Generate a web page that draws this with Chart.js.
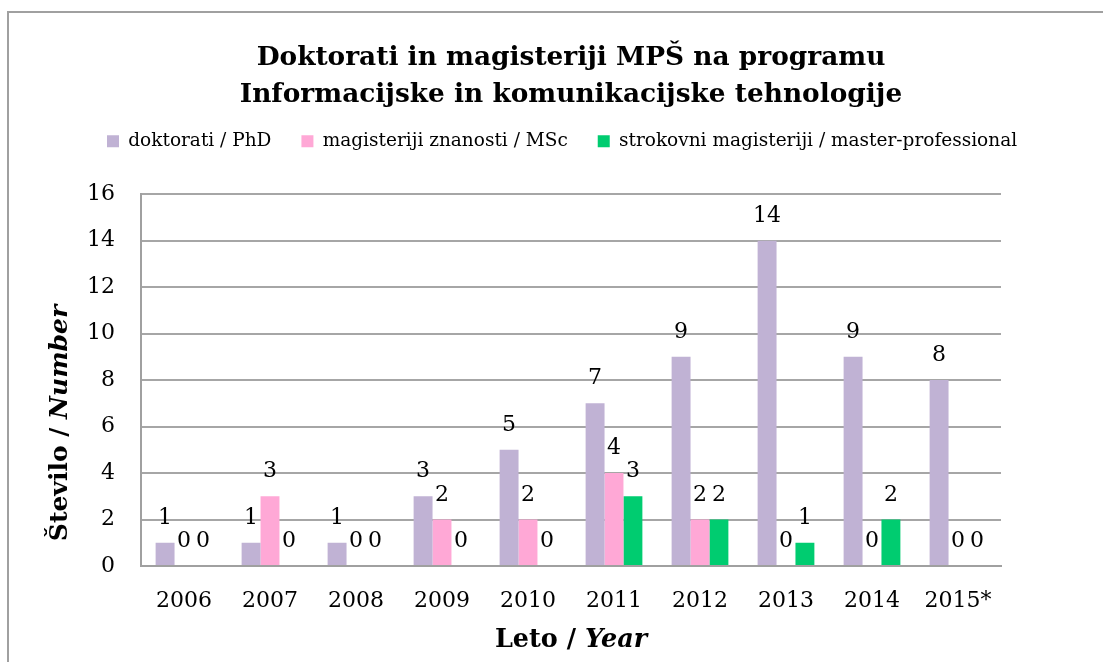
<!DOCTYPE html>
<html>
<head>
<meta charset="utf-8">
<script src="https://cdn.jsdelivr.net/npm/chart.js@4.4.1/dist/chart.umd.min.js"></script>
<style>
  html, body { margin: 0; padding: 0; background: #fff; }
  #wrap { position: relative; width: 1103px; height: 662px; overflow: hidden; }
  canvas { display: block; }
</style>
</head>
<body>
<div id="wrap"><canvas id="c" width="1103" height="662"></canvas></div>
<script>
const years = ['2006', '2007', '2008', '2009', '2010', '2011', '2012', '2013', '2014', '2015*'];
const phd = [1, 1, 1, 3, 5, 7, 9, 14, 9, 8];
const msc = [0, 3, 0, 2, 2, 4, 2, 0, 0, 0];
const professional = [0, 0, 0, 0, 0, 3, 2, 1, 2, 0];
const seriesNames = ['doktorati / PhD', 'magisteriji znanosti / MSc', 'strokovni magisteriji / master-professional'];
const yTicks = [0, 2, 4, 6, 8, 10, 12, 14, 16];
const titleLines = ['Doktorati in magisteriji MPŠ na programu', 'Informacijske in komunikacijske tehnologije'];

const FONT = "'DejaVu Serif', 'Liberation Serif', serif";

const framePlugin = {
  id: 'frame',
  beforeDraw(chart) {
    const ctx = chart.ctx;
    ctx.save();
    ctx.fillStyle = '#fff';
    ctx.fillRect(0, 0, chart.width, chart.height);
    ctx.strokeStyle = '#A0A0A0';
    ctx.lineWidth = 2;
    ctx.beginPath();
    ctx.moveTo(8, chart.height);
    ctx.lineTo(8, 12);
    ctx.lineTo(chart.width, 12);
    ctx.stroke();
    ctx.restore();
  }
};

const labelPlugin = {
  id: 'valueLabels',
  afterDatasetsDraw(chart) {
    const ctx = chart.ctx;
    ctx.save();
    ctx.font = "22px " + FONT;
    ctx.fillStyle = '#000';
    ctx.textAlign = 'center';
    ctx.textBaseline = 'alphabetic';
    chart.data.datasets.forEach((ds, i) => {
      const meta = chart.getDatasetMeta(i);
      meta.data.forEach((el, j) => {
        ctx.fillText(String(ds.data[j]), el.x, el.y - 19);
      });
    });
    ctx.restore();
  }
};

function drawMixed(ctx, parts, cx, cy) {
  let total = 0;
  parts.forEach(p => { ctx.font = p.font; p.w = ctx.measureText(p.text).width; total += p.w; });
  let x = cx - total / 2;
  parts.forEach(p => { ctx.font = p.font; ctx.fillText(p.text, x, cy); x += p.w; });
}

const axisTitlePlugin = {
  id: 'axisTitles',
  afterDraw(chart) {
    const ctx = chart.ctx;
    const a = chart.chartArea;
    ctx.save();
    ctx.fillStyle = '#000';
    ctx.textAlign = 'left';
    ctx.textBaseline = 'middle';
    drawMixed(ctx, [
      { text: 'Leto / ', font: "bold 25.5px " + FONT },
      { text: 'Year', font: "italic bold 25.5px " + FONT }
    ], (a.left + a.right) / 2, a.bottom + 74);
    ctx.translate(a.left - 81, a.bottom - 143);
    ctx.rotate(-Math.PI / 2);
    drawMixed(ctx, [
      { text: 'Število / ', font: "bold 25px " + FONT },
      { text: 'Number', font: "italic bold 25px " + FONT }
    ], 0, 0);
    ctx.restore();
  }
};

new Chart(document.getElementById('c'), {
  type: 'bar',
  data: {
    labels: years,
    datasets: [
      { label: seriesNames[0], data: phd, backgroundColor: '#C0B2D4', borderWidth: 0 },
      { label: seriesNames[1], data: msc, backgroundColor: '#FFA8D6', borderWidth: 0 },
      { label: seriesNames[2], data: professional, backgroundColor: '#00CC70', borderWidth: 0 }
    ]
  },
  options: {
    responsive: false,
    animation: false,
    devicePixelRatio: 1,
    layout: { padding: { left: 77, right: 8, top: 0, bottom: 48 } },
    datasets: { bar: { categoryPercentage: 0.66, barPercentage: 1.0 } },
    scales: {
      x: {
        grid: { display: false, drawTicks: false },
        border: { display: true, color: '#A0A0A0', width: 2 },
        ticks: { color: '#000', font: { family: FONT, size: 22 }, padding: 22, maxRotation: 0, autoSkip: false },
        afterFit(scale) { scale.height = 48; }
      },
      y: {
        min: 0, max: 16,
        afterBuildTicks(scale) { scale.ticks = yTicks.map(v => ({ value: v })); },
        grid: { color: '#A6A6A6', lineWidth: 2, drawTicks: false },
        border: { display: true, color: '#A0A0A0', width: 2 },
        ticks: { color: '#000', font: { family: FONT, size: 22 }, padding: 26 },
        afterFit(scale) { scale.width = 64; }
      },
      yRight: {
        position: 'right',
        display: true,
        min: 0, max: 16,
        grid: { display: false, drawOnChartArea: false, drawTicks: false },
        border: { display: false },
        ticks: { display: false },
        afterFit(scale) { scale.width = 94; }
      }
    },
    plugins: {
      title: {
        display: true,
        text: titleLines,
        fullSize: false,
        color: '#000',
        font: { family: FONT, size: 26.4, weight: 'bold', lineHeight: 1.4 },
        padding: { top: 39.5, bottom: -11.5 }
      },
      legend: {
        display: true,
        position: 'top',
        align: 'start',
        labels: {
          boxWidth: 12, boxHeight: 12, padding: 30, color: '#000',
          font: { family: FONT, size: 18.5 }
        }
      },
      subtitle: {
        display: true,
        text: '',
        position: 'top',
        weight: 500,
        font: { size: 1, lineHeight: 1 },
        padding: { top: 32.75, bottom: 0 }
      },
      tooltip: { enabled: false }
    }
  },
  plugins: [framePlugin, labelPlugin, axisTitlePlugin]
});
</script>
</body>
</html>
